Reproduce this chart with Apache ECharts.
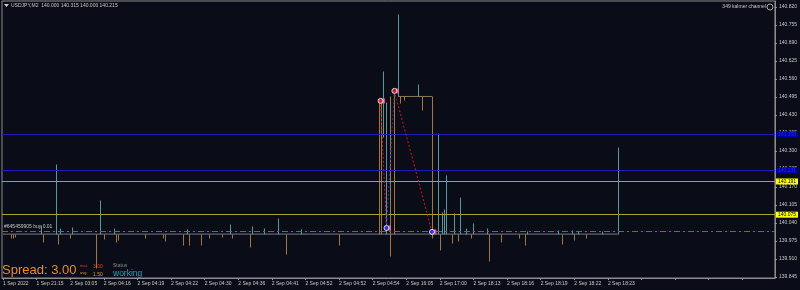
<!DOCTYPE html>
<html><head><meta charset="utf-8">
<script src="https://cdn.jsdelivr.net/npm/echarts@6/dist/echarts.min.js"></script>
<style>html,body{margin:0;padding:0;background:#0a0c17}#c{width:800px;height:290px}</style>
</head><body><div id="c"></div>
<script>
// ---- data ----
const timeLabels = ['1 Sep 2022','1 Sep 21:15','2 Sep 03:05','2 Sep 04:16','2 Sep 04:19','2 Sep 04:22','2 Sep 04:30','2 Sep 04:36','2 Sep 04:41','2 Sep 04:52','2 Sep 04:52','2 Sep 04:54','2 Sep 16:05','2 Sep 17:00','2 Sep 18:13','2 Sep 18:16','2 Sep 18:19','2 Sep 18:22','2 Sep 18:23'];
const barsPerLabel = 17;
const slotCount = 391;
const priceTicks = [140.820,140.755,140.690,140.625,140.560,140.495,140.430,140.365,140.300,140.235,140.170,140.105,140.040,139.975,139.910,139.845];

// notable bars (bar index, open, close, low, high)
const barIdx   = [4,5,6,19,20,27,28,29,34,35,47,49,51,56,57,58,72,81,82,91,93,94,100,104,111,115,116,125,126,132,139,143,151,170,
                  190,191,192,194,196,198,200,201,203,210,212,217,
                  220,221,222,223,224,227,228,230,231,234,237,238,245,246,252,261,264,265,281,283,288,289,291,295,303,311];
const barOpen  = [140,140,140,140,140,140,140,140,140,140,140,140,140,140,140,140,140,140,140,140,140,140,140,140,140,140,140,140,140,140,140,140,140,140,
                  140.493,140.490,140.350,140.000,140.500,140.510,140.497,140.497,140.497,140.497,140.497,140.497,
                  140,140,140,140,140,140,140,140,140,140,140,140,140,140,140,140,140,140,140,140,140,140,140,140,140,140.000];
const barClose = [139.986,139.986,139.989,140.033,139.971,140.253,139.964,140.022,139.986,140.026,139.877,140.123,139.984,140.022,139.971,139.978,139.986,139.986,139.975,139.960,140.019,139.960,139.960,139.986,139.989,140.036,139.986,139.953,140.029,140.022,140.058,139.928,140.019,139.960,
                  140.000,140.000,140.589,140.477,139.921,140.000,140.795,140.473,140.484,140.542,140.448,139.986,
                  140.365,139.943,140.080,140.091,140.213,139.968,140.076,139.975,140.134,140.022,139.986,140.040,140.022,139.903,139.971,139.986,139.960,140.010,140.015,139.964,140.015,139.978,140.010,139.986,140.010,140.215];
const barLow   = [139.986,139.986,139.989,140,139.971,140,139.964,140,139.986,140,139.877,140,139.984,140,139.971,139.978,139.986,139.986,139.975,139.960,140,139.960,139.960,139.986,139.989,140,139.986,139.953,140,140,140,139.928,140,139.960,
                  140.000,140.000,140.350,140.000,139.921,140.000,140.497,140.473,140.484,140.497,140.448,139.986,
                  140,139.943,140,140,140,139.968,140,139.975,140,140,139.986,140,140,139.903,139.971,139.986,139.960,140,140,139.964,140,139.978,140,139.986,140,140.000];
const barHigh  = [140,140,140,140.033,140,140.253,140,140.022,140,140.026,140,140.123,140,140.022,140,140,140,140,140,140,140.019,140,140,140,140,140.036,140,140,140.029,140.022,140.058,140,140.019,140,
                  140.493,140.490,140.589,140.477,140.500,140.510,140.795,140.497,140.497,140.542,140.497,140.497,
                  140.365,140,140.080,140.091,140.213,140,140.076,140,140.134,140.022,140,140.040,140.022,140,140,140,140,140.010,140.015,140,140.015,140,140.010,140,140.010,140.315];

// flat (doji) stretches: start bar, end bar, price
const flatStart = [0, 200];
const flatEnd   = [311, 217];
const flatPrice = [140.000, 140.497];

// horizontal levels
const blueLevels   = [140.358, 140.231];
const yellowLevels = [140.191, 140.075];
const bidPrice     = 140.215;
const orderPrice   = 140.007;
const orderText    = '#645459905 buy 0.01';

// trades: open bar, open price, close bar, close price
const tradeType       = ['sell','buy','sell'];
const tradeOpenBar    = [191, 194, 198];
const tradeOpenPrice  = [140.481, 140.022, 140.517];
const tradeCloseBar   = [194, 198, 217];
const tradeClosePrice = [140.022, 140.517, 140.008];

const headerText = 'USDJPY,M2  140.000 140.315 140.000 140.215';
const indicatorText = '349 kalmer channel';
const spreadText = 'Spread: 3.00';
const spreadMax = '3.00', spreadAvg = '1.50';
const statusText = 'working';

// ---- chart ----
const BULL = '#4e9a9c', BEAR = '#a07a34';
const FONT = '"Liberation Sans", Arial, sans-serif';
const cats = [];
for (let i = 0; i < slotCount; i++) cats.push(String(i));
const barData = barIdx.map((b, k) => [b, barOpen[k], barClose[k], barLow[k], barHigh[k]]);

const chart = echarts.init(document.getElementById('c'), null, {renderer: 'canvas'});

const boxLabel = (v, fg, bg) => ({show: true, position: 'end', distance: 1, formatter: v.toFixed(3), color: fg,
  backgroundColor: bg, padding: [1, 2, 0, 2], fontSize: 5, fontFamily: FONT});
const markLineData = [];
blueLevels.forEach(v => markLineData.push({yAxis: v, lineStyle: {color: '#1c1cb0', width: 1, type: 'solid'}, label: boxLabel(v, '#2828d8', '#0000a8')}));
yellowLevels.forEach(v => markLineData.push({yAxis: v, lineStyle: {color: '#a8a234', width: 1, type: 'solid'}, label: boxLabel(v, '#000', '#ffff00')}));
markLineData.push({yAxis: orderPrice, lineStyle: {color: '#1e9a1e', width: 1, type: [6, 3, 2, 3]},
  label: {show: true, position: 'insideStartTop', distance: 2, formatter: orderText, color: '#c8c8c8', fontSize: 5, fontFamily: FONT}});
markLineData.push({yAxis: bidPrice, lineStyle: {opacity: 0}, label: boxLabel(bidPrice, '#000', '#ffffff')});

const flatSeries = flatStart.map((s, k) => ({
  type: 'line', data: [[s, flatPrice[k]], [flatEnd[k], flatPrice[k]]], symbol: 'none', silent: true,
  lineStyle: {color: k === 0 ? '#6f7c82' : '#8a7a55', width: 1}, z: 2, animation: false
}));

const tradeSeries = tradeType.map((t, k) => ({
  type: 'line', data: [[tradeOpenBar[k], tradeOpenPrice[k]], [tradeCloseBar[k], tradeClosePrice[k]]], symbol: 'none', silent: true,
  lineStyle: {color: t === 'sell' ? '#d01818' : '#2828e0', width: 1, type: [2, 2]}, z: 6, animation: false
}));

const markerSeries = {
  type: 'scatter', z: 8, animation: false, symbolSize: 5, silent: true,
  data: tradeType.map((t, k) => ({value: [tradeOpenBar[k], tradeOpenPrice[k]],
      itemStyle: {color: t === 'sell' ? '#e02020' : '#3030ff', borderColor: '#ffffff', borderWidth: 1}}))
    .concat([{value: [tradeCloseBar[2], tradeClosePrice[2]], itemStyle: {color: '#3030ff', borderColor: '#fff', borderWidth: 1}}])
};
const pinkSeries = {
  type: 'scatter', z: 7, animation: false, symbol: 'rect', symbolSize: [3, 5], symbolOffset: [3, 0], silent: true,
  itemStyle: {color: '#ff5fb0'},
  data: tradeType.map((t, k) => [tradeOpenBar[k], tradeOpenPrice[k]]).concat([[tradeCloseBar[2], tradeClosePrice[2]]])
};

chart.setOption({
  backgroundColor: '#0a0c17',
  animation: false,
  grid: {left: 2, right: 24, top: 1, bottom: 12, show: true, borderColor: '#8c8c8c', borderWidth: 1, backgroundColor: 'transparent'},
  xAxis: {
    type: 'category', data: cats, boundaryGap: true,
    axisLine: {show: true, lineStyle: {color: '#8c8c8c'}},
    axisTick: {show: true, alignWithLabel: true, length: 2, interval: (i) => i % barsPerLabel === 0, lineStyle: {color: '#9a9a9a'}},
    axisLabel: {interval: (i) => i % barsPerLabel === 0, align: 'left', margin: 3, fontSize: 5, color: '#c8c8c8', fontFamily: FONT,
      formatter: (v, i) => timeLabels[i / barsPerLabel] || ''},
    splitLine: {show: false}
  },
  yAxis: {
    type: 'value', position: 'right', min: 139.8414, max: 140.8417, scale: true,
    axisLine: {show: true, lineStyle: {color: '#8c8c8c'}},
    axisTick: {show: true, length: 2, customValues: priceTicks, lineStyle: {color: '#9a9a9a'}},
    axisLabel: {customValues: priceTicks, margin: 4, fontSize: 5, color: '#c8c8c8', fontFamily: FONT,
      formatter: (v) => v.toFixed(3)},
    splitLine: {show: false}
  },
  series: [
    {type: 'custom', z: 4, animation: false, silent: true, data: barData, encode: {x: 0, y: [1, 2, 3, 4]},
      renderItem: (params, api) => {
        const x = api.value(0), o = api.value(1), c = api.value(2), l = api.value(3), h = api.value(4);
        const pL = api.coord([x, l]), pH = api.coord([x, h]);
        const px = Math.round(pL[0]) + 0.5;
        return {type: 'line', shape: {x1: px, y1: Math.round(pL[1]) + 0.5, x2: px, y2: Math.round(pH[1]) + 0.5},
          style: {stroke: c >= o ? BULL : BEAR, fill: null, lineWidth: 1}};
      }},
    Object.assign(flatSeries[0], {markLine: {symbol: 'none', silent: true, data: markLineData, animation: false}}),
    flatSeries[1]
  ].concat(tradeSeries, [markerSeries, pinkSeries]),
  graphic: [
    {type: 'polygon', shape: {points: [[4, 4], [9, 4], [6.5, 7]]}, style: {fill: '#d0d0d0'}},
    {type: 'text', left: 11, top: 3, style: {text: headerText, fill: '#c8c8c8', font: '5px ' + FONT}},
    {type: 'text', right: 34, top: 4, style: {text: indicatorText, fill: '#c8c8c8', font: '5px ' + FONT}},
    {type: 'circle', shape: {cx: 770, cy: 7, r: 3}, style: {fill: 'none', stroke: '#aaa', lineWidth: 1}},
    {type: 'text', left: 2, top: 264, style: {text: spreadText, fill: '#f08c10', font: '13px ' + FONT}},
    {type: 'text', left: 80, top: 264, style: {text: 'max', fill: '#e04010', font: '4px ' + FONT}},
    {type: 'text', left: 80, top: 271, style: {text: 'avg', fill: '#d0a020', font: '4px ' + FONT}},
    {type: 'text', left: 93, top: 264, style: {text: spreadMax, fill: '#e04010', font: '5px ' + FONT}},
    {type: 'text', left: 93, top: 272, style: {text: spreadAvg, fill: '#d0a020', font: '5px ' + FONT}},
    {type: 'text', left: 113, top: 263, style: {text: 'Status', fill: '#8a8a8a', font: '5px ' + FONT}},
    {type: 'text', left: 113, top: 269, style: {text: statusText, fill: '#17a8b8', font: '8.5px ' + FONT}}
  ]
});
</script></body></html>
